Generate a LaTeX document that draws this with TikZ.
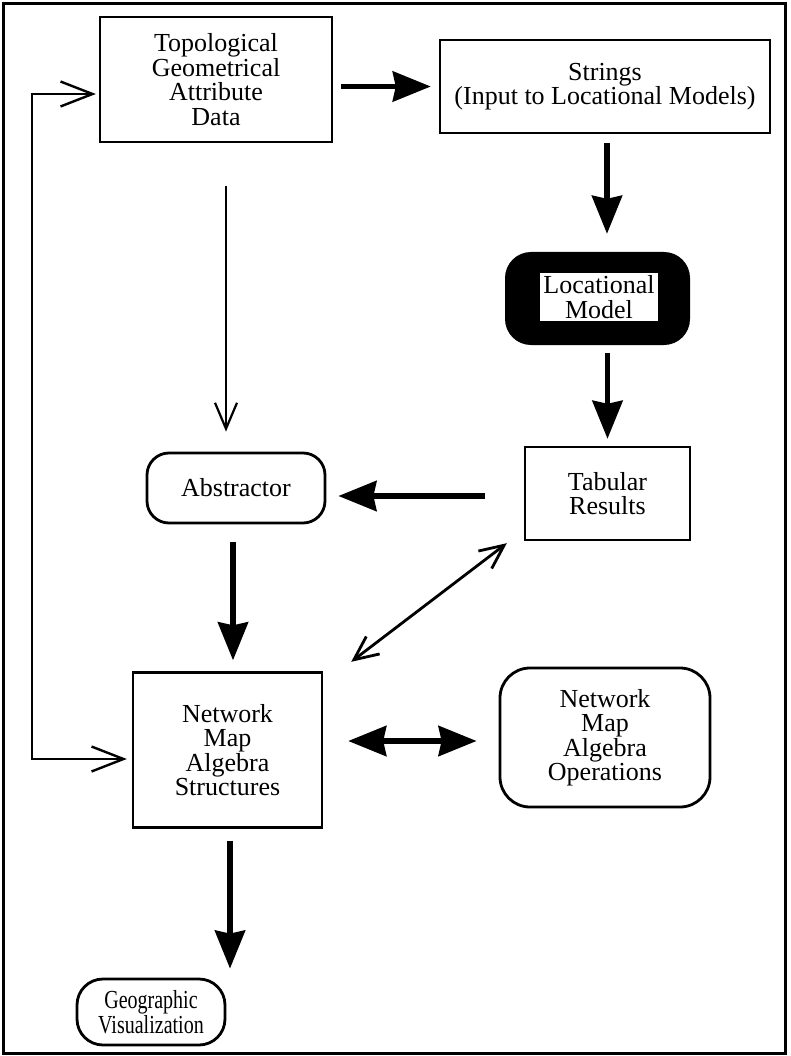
\documentclass[tikz,border=0pt]{standalone}
\usepackage{fontspec}
\setmainfont{Liberation Serif}
\newfontfamily\narrowserif[FakeStretch=0.77]{Liberation Serif}
\usetikzlibrary{arrows.meta}
\begin{document}
\begin{tikzpicture}[x=1pt,y=-1pt,
  every node/.style={font=\fontsize{26}{24.5}\selectfont, align=center, inner sep=0pt},
  box/.style={draw, line width=2.4pt},
  rbox/.style={draw, line width=2.8pt, rounded corners=24pt},
  bigarrow/.style={line width=5.5pt, -{Stealth[length=38pt,width=30pt,inset=3pt]}},
  bigboth/.style={line width=5.5pt, {Stealth[length=38pt,width=30pt,inset=3pt]}-{Stealth[length=38pt,width=30pt,inset=3pt]}},
  thinarrow/.style={line width=2.2pt, -{Straight Barb[length=26pt,width=22pt]}},
  loopline/.style={line width=2.4pt, {Straight Barb[length=32pt,width=25pt]}-{Straight Barb[length=32pt,width=25pt]}},
  diagboth/.style={line width=2.8pt, {Straight Barb[length=24pt,width=22pt]}-{Straight Barb[length=24pt,width=22pt]}}
]
\useasboundingbox (0,0) rectangle (790,1056);

% outer frame
\draw[line width=3pt] (3,4) rectangle (785,1053);

% nodes
\node[box, minimum width=232pt, minimum height=125pt] (tgad) at (216,79.5)
  {Topological\\Geometrical\\Attribute\\Data};
\node[box, minimum width=330pt, minimum height=93pt] (strings) at (605,86.5)
  {Strings\\(Input to Locational Models)};
\node[fill=black, rounded corners=26pt, minimum width=185pt, minimum height=93pt] (loc) at (597.5,298.5) {};
\node[fill=white, minimum width=118pt, minimum height=48pt] (loctext) at (599,297)
  {Locational\\Model};
\node[box, minimum width=165pt, minimum height=93pt] (tab) at (607.5,493.5)
  {Tabular\\Results};
\node[rbox, rounded corners=22pt, minimum width=178pt, minimum height=70pt] (abs) at (236,488)
  {Abstractor};
\node[box, minimum width=189pt, minimum height=155pt] (nmas) at (227.5,750)
  {Network\\Map\\Algebra\\Structures};
\node[rbox, rounded corners=30pt, minimum width=210pt, minimum height=139pt] (nmao) at (605,737.5)
  {Network\\Map\\Algebra\\Operations};
\node[rbox, rounded corners=26pt, minimum width=148pt, minimum height=66pt,
      font=\narrowserif\fontsize{26}{24.5}\selectfont] (geo) at (151,1012)
  {Geographic\\Visualization};

% rail of the feedback loop on the left
\coordinate (rail) at (32,400);

% connectors
\draw[bigarrow] ([xshift=8pt]tgad.east |- strings.west) -- ([xshift=-8pt]strings.west);
\draw[bigarrow] ([xshift=2pt,yshift=-9pt]strings.south) -- ([xshift=2pt,yshift=18pt]strings.south |- loc.north);
\draw[bigarrow] ([yshift=-8pt]tab.north |- loc.south) -- ([yshift=7pt]tab.north);
\draw[bigarrow] ([xshift=-39pt,yshift=-2.5pt]tab.west) -- ([xshift=12pt,yshift=-2.5pt]abs.east |- tab.west);
\draw[thinarrow] ([xshift=10pt,yshift=-43pt]tgad.south) -- ([xshift=10pt,yshift=20pt]tgad.south |- abs.north);
\draw[bigarrow] ([xshift=-3pt,yshift=-18pt]abs.south) -- ([xshift=-3pt,yshift=11pt]abs.south |- nmas.north);
\draw[bigarrow] ([xshift=2.5pt,yshift=-12pt]nmas.south) -- ([xshift=2.5pt,yshift=9pt]nmas.south |- geo.north);
\draw[bigboth] ([xshift=25pt,yshift=9pt]nmas.east) -- ([xshift=-22pt,yshift=9pt]nmao.west |- nmas.east);
\draw[diagboth] ([xshift=28pt,yshift=9.5pt]nmas.north east) -- ([xshift=-17pt,yshift=-2pt]tab.south west);
\draw[loopline] ([xshift=-3pt,yshift=-14.5pt]tgad.west) -| (rail) |- ([xshift=-5pt,yshift=-9pt]nmas.west);
\end{tikzpicture}
\end{document}
